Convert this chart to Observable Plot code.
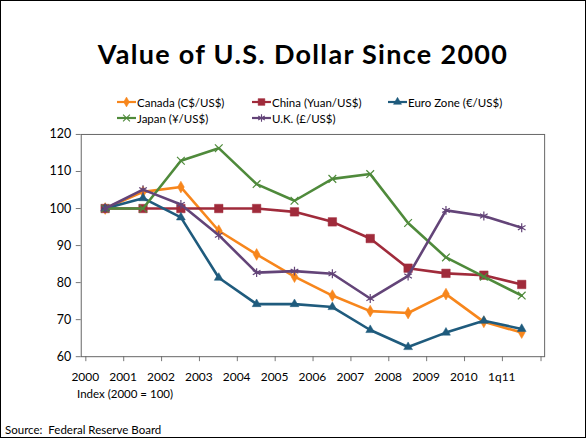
<!DOCTYPE html>
<html><head><meta charset="utf-8">
<script src="https://cdn.jsdelivr.net/npm/d3@7"></script>
<script src="https://cdn.jsdelivr.net/npm/@observablehq/plot@0.6"></script>
<style>
body{margin:0;font-family:Lato,"Open Sans",sans-serif;background:#fff;}
#wrap{position:relative;width:586px;height:438px;box-sizing:border-box;border:1px solid #000;background:#fff;overflow:hidden}
#title{position:absolute;left:10px;width:100%;top:36px;text-align:center;font-weight:bold;font-size:27px;letter-spacing:1.3px;color:#000}
.leg{position:absolute;font-size:11.5px;white-space:nowrap;display:flex;align-items:center;height:14px}
.leg svg{margin-right:1px}
#chart{position:absolute;left:0;top:120px}
#note{position:absolute;left:76px;top:386px;font-size:11.5px}
#src{position:absolute;left:4px;top:422px;font-size:11.5px}
</style></head>
<body><div id="wrap">
<div id="title">Value of U.S. Dollar Since 2000</div>
<div id="legend"></div>
<div id="chart"></div>
<div id="note">Index (2000 = 100)</div>
<div id="src">Source:&nbsp; Federal Reserve Board</div>
</div>
<script>
const years = ["2000","2001","2002","2003","2004","2005","2006","2007","2008","2009","2010","1q11"];
const seriesNames = ["Canada (C$/US$)","China (Yuan/US$)","Euro Zone (€/US$)","Japan (¥/US$)","U.K. (£/US$)"];
const canada = [100,104.5,105.8,94.0,87.6,81.6,76.5,72.3,71.8,76.9,69.4,66.5];
const china  = [100,100,100,100,100,99.1,96.4,91.9,83.9,82.5,82.0,79.5];
const euro   = [100,102.8,97.6,81.3,74.2,74.2,73.4,67.2,62.6,66.5,69.7,67.5];
const japan  = [100,100,112.9,116.3,106.6,102.1,108.0,109.3,96.1,86.8,81.6,76.5];
const uk     = [100,105.1,101.1,92.8,82.7,83.1,82.4,75.7,81.8,99.5,98.0,94.8];
const yTicks = [60,70,80,90,100,110,120];

const colors = ["#F7861C","#A02B3B","#1F5B7D","#4F8A3B","#634478"];
const symbols = ["diamond","square","triangle","times","asterisk"];
const filled = [true,true,true,false,false];
const radii = [3.6,4.8,3.3,3.6,4.2];
const valuesList = [canada,china,euro,japan,uk];

const data = seriesNames.flatMap((s,k) => years.map((y,i) => ({series:s, year:y, value:valuesList[k][i]})));

const marks = [
  Plot.axisY({ticks:yTicks, tickSize:5, tickPadding:5, stroke:"#777", label:null, fontSize:12.5}),
  Plot.axisX({tickSize:5, dx:-19.375, tickFormat:()=>"", stroke:"#777", label:null}),
  Plot.axisX({ticks:["1q11"], tickSize:5, dx:19.375, tickFormat:()=>"", stroke:"#777", label:null}),
  Plot.axisX({tickSize:0, tickPadding:16, dx:-20, label:null, fontSize:12}),
  Plot.frame({stroke:"#666"})
];
seriesNames.forEach((s,k) => {
  const d = data.filter(r => r.series === s);
  marks.push(Plot.line(d, {x:"year", y:"value", stroke:colors[k], strokeWidth:2.6}));
  marks.push(Plot.dot(d, {x:"year", y:"value", symbol:()=>symbols[k], r:radii[k],
    fill: filled[k] ? colors[k] : "none", stroke:colors[k], strokeWidth: filled[k]?0.5:1.2}));
});

const chart = Plot.plot({
  width:586, height:290,
  marginLeft:80, marginRight:41, marginTop:13, marginBottom:54,
  x:{type:"point", domain:years, padding:0.5, label:null},
  y:{domain:[60,120], label:null},
  symbol:{type:"identity"},
  style:{fontFamily:"Lato, 'Open Sans', sans-serif", fontSize:"12px", color:"#000", background:"transparent"},
  marks
});
document.getElementById("chart").appendChild(chart);

// legend
const legPos = [[116,94],[251,94],[387,94],[116,110],[251,110]];
const leg = document.getElementById("legend");
const symMap = {diamond:d3.symbolDiamond, square:d3.symbolSquare, triangle:d3.symbolTriangle, times:d3.symbolTimes, asterisk:d3.symbolAsterisk};
const legR = [3,3.8,3,3.2,3.6];
seriesNames.forEach((s,k) => {
  const div = document.createElement("div");
  div.className = "leg";
  div.style.left = legPos[k][0]+"px";
  div.style.top = legPos[k][1]+"px";
  const sz = Math.PI*legR[k]*legR[k];
  const path = d3.symbol(symMap[symbols[k]], sz)();
  div.innerHTML = `<svg width="19" height="12"><line x1="0" x2="19" y1="6" y2="6" stroke="${colors[k]}" stroke-width="2.2"/><path transform="translate(9.5,6)" d="${path}" fill="${filled[k]?colors[k]:'none'}" stroke="${colors[k]}" stroke-width="${filled[k]?0.5:1.1}"/></svg><span>${s}</span>`;
  leg.appendChild(div);
});
</script>
</body></html>
